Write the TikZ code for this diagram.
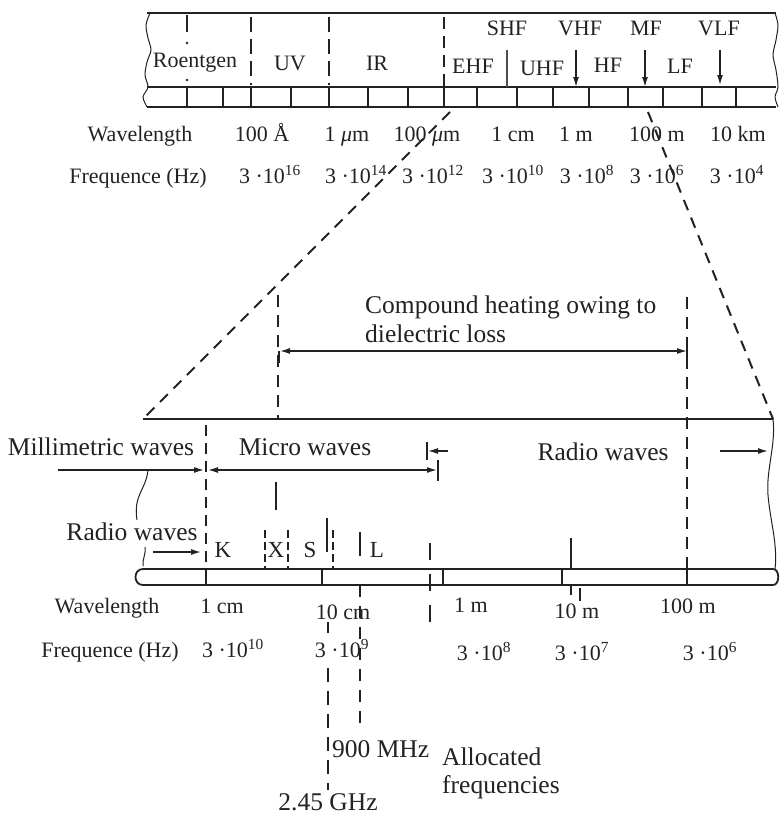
\documentclass[tikz,border=0pt]{standalone}
\usepackage{fontspec}
\setmainfont{Liberation Serif}
\usetikzlibrary{arrows.meta}
\definecolor{ink}{HTML}{222222}
\begin{document}
\begin{tikzpicture}[x=1pt,y=-1pt,
  frame/.style={draw=ink,line width=1.8pt},
  tk/.style={draw=ink,line width=1.4pt},
  tkb/.style={draw=ink,line width=2pt},
  thinw/.style={draw=ink,line width=1pt},
  dsh/.style={draw=ink,line width=2pt,dash pattern=on 12pt off 8pt},
  dshs/.style={draw=ink,line width=1.6pt,dash pattern=on 8pt off 4pt},
  arr/.style={draw=ink,line width=1.4pt,-{Latex[length=10pt,width=6pt]}},
  darr/.style={draw=ink,line width=1.4pt,{Latex[length=10pt,width=6pt]}-{Latex[length=10pt,width=6pt]}},
  lbl/.style={anchor=base,inner sep=0pt,text=ink,font=\fontsize{22}{24}\selectfont},
  big/.style={anchor=base,inner sep=0pt,text=ink,font=\fontsize{25.5}{28}\selectfont},
  bigl/.style={big,anchor=base west}
]
\useasboundingbox (0,0) rectangle (780,814);

% ================= upper band =================
\draw[frame] (147,13) -- (776,13);
\draw[frame] (147,87) -- (776,87);
\draw[frame] (147,107) -- (776,107);
\draw[thinw] plot[smooth] coordinates {(150,13) (146,25) (148,38) (151,50) (147,62) (145,75) (148,87) (143,97) (147,107)};
\draw[thinw] plot[smooth] coordinates {(775,13) (778,25) (776,40) (773,55) (776,70) (778,87) (775,97) (778,107)};
% ticks
\foreach \x in {187,251,329,444,517,702} \draw[tkb] (\x,87) -- (\x,107);
\foreach \x in {223,291,368,408,477,553,589,628,663,736} \draw[tk] (\x,87) -- (\x,107);
% dividers
\draw[tkb] (187,15) -- (187,32);
\fill[ink] (187,43) circle (1.3pt);
\fill[ink] (187,80) circle (1.3pt);
\foreach \x in {251,329} \draw[dsh,dash pattern=on 15pt off 7pt] (\x,17) -- (\x,85);
\draw[dsh,dash pattern=on 12pt off 7pt] (444,17) -- (444,86);
\draw[tk,draw=ink!80] (507,50) -- (507,87);
\coordinate (vhfA) at (576,50); \coordinate (vhfB) at (576,87);
\coordinate (mfA) at (645,50);  \coordinate (mfB) at (645,87);
\coordinate (vlfA) at (720,50); \coordinate (vlfB) at (720,85);
\draw[arr] (vhfA) -- (vhfB);
\draw[arr] (mfA) -- (mfB);
\draw[arr] (vlfA) -- (vlfB);
% band labels
\node[lbl] (roent) at (195,67) {Roentgen};
\node[lbl] (uv) at (290,70) {UV};
\node[lbl] (ir) at (377,70) {IR};
\node[lbl] (shf) at (507,35) {SHF};
\node[lbl] (vhf) at (580,35) {VHF};
\node[lbl] (mf) at (646,35) {MF};
\node[lbl] (vlf) at (719,35) {VLF};
\node[lbl] (ehf) at (473,73) {EHF};
\node[lbl] (uhf) at (542,75) {UHF};
\node[lbl] (hf) at (608,72) {HF};
\node[lbl] (lf) at (680,73) {LF};
% wavelength / frequency rows
\node[lbl] (wl1) at (140,141) {Wavelength};
\node[lbl] (w1) at (262,141) {100 Å};
\node[lbl] (w2) at (347,141) {1 \textit{μ}m};
\node[lbl] (w3) at (427,141) {100 \textit{μ}m};
\node[lbl] (w4) at (513,141) {1 cm};
\node[lbl] (w5) at (576,141) {1 m};
\node[lbl] (w6) at (657,141) {100 m};
\node[lbl] (w7) at (738,141) {10 km};
\node[lbl] (fr1) at (138,183) {Frequence (Hz)};
\node[lbl] (f1) at (270,183) {3 ·10\textsuperscript{16}};
\node[lbl] (f2) at (356,183) {3 ·10\textsuperscript{14}};
\node[lbl] (f3) at (433,183) {3 ·10\textsuperscript{12}};
\node[lbl] (f4) at (513,183) {3 ·10\textsuperscript{10}};
\node[lbl] (f5) at (587,183) {3 ·10\textsuperscript{8}};
\node[lbl] (f6) at (657,183) {3 ·10\textsuperscript{6}};
\node[lbl] (f7) at (737,183) {3 ·10\textsuperscript{4}};

% ================= zoom trapezoid =================
\coordinate (zl1) at (450,112); \coordinate (zl2) at (143,419);
\coordinate (zr1) at (648,112); \coordinate (zr2) at (773,419);
\draw[dsh,dash pattern=on 11pt off 8pt] (zl1) -- (zl2);
\draw[dsh,dash pattern=on 11pt off 8pt] (zr1) -- (zr2);

% ================= lower section =================
\draw[frame] (143,419) -- (773,419);
\draw[thinw] (773,419) .. controls (776,445) and (766,470) .. (768,495)
  .. controls (770,520) and (778,545) .. (775,569);
% compound heating
\draw[dsh] (278,295) -- (278,419);
\draw[dsh] (687,297) -- (687,569);
\coordinate (chA) at (280,351); \coordinate (chB) at (687,351);
\draw[darr] (chA) -- (chB);
\draw[tkb] (279,351) -- (279,363);
\draw[tkb] (687,342) -- (687,361);
\node[bigl] (comp1) at (365,313) {Compound heating owing to};
\node[bigl] (comp2) at (365,342) {dielectric loss};

% wave ranges
\coordinate (mmA) at (58,470); \coordinate (mmB) at (204,470);
\coordinate (mwA) at (208,470); \coordinate (mwB) at (437,470);
\draw[arr] (mmA) -- (mmB);
\draw[darr] (mwA) -- (mwB);
\draw[tk] (438,460) -- (438,481);
\coordinate (rwA) at (448,451); \coordinate (rwB) at (428,451);
\draw[arr] (rwA) -- (rwB);
\draw[tk] (427,442) -- (427,460);
\coordinate (rrA) at (720,451); \coordinate (rrB) at (768,451);
\draw[arr] (rrA) -- (rrB);
\coordinate (rlA) at (153,552); \coordinate (rlB) at (201,552);
\draw[arr] (rlA) -- (rlB);
\node[big] (mmw) at (101,455) {Millimetric waves};
\node[big] (mw) at (305,455) {Micro waves};
\node[big] (rw) at (603,460) {Radio waves};
\node[big] (rwl) at (132,540) {Radio waves};

\draw[dsh,dash pattern=on 11pt off 7pt] (206,425) -- (206,569);
\draw[tkb] (276,482) -- (276,510);
% left break lines
\draw[thinw] (148,470) .. controls (146,490) and (133,495) .. (137,520);
\draw[thinw] (145,547) .. controls (146,555) and (142,560) .. (143,566);
\draw[frame] (143,569) .. controls (133,569) and (133,585) .. (143,585);
\draw[frame] (773,569) .. controls (780,569) and (780,585) .. (773,585);

% lower scale
\draw[frame] (143,569) -- (773,569);
\draw[frame] (143,585) -- (773,585);
\foreach \x in {206,322,443,562,687} \draw[tkb] (\x,569) -- (\x,585);
% markers above
\draw[dshs] (265,530) -- (265,569);
\draw[dshs] (288,530) -- (288,569);
\draw[tkb] (327,518) -- (327,552);
\draw[dshs] (333,530) -- (333,569);
\draw[tkb] (360,532) -- (360,556);
\draw[dsh,dash pattern=on 17pt off 14pt] (430,543) -- (430,623);
\draw[tkb] (571,538) -- (571,569);
% markers below
\draw[tk] (571,585) -- (571,595);
\draw[tk] (580,588) -- (580,601);
\draw[dsh,dash pattern=on 12pt off 9pt] (360,585) -- (360,728);
\draw[tkb] (328,622) -- (328,633);
\draw[dsh,dash pattern=on 14pt off 9pt] (328,668) -- (328,790);

\node[lbl,font=\fontsize{23}{25}\selectfont] (bk) at (223,557) {K};
\node[lbl,font=\fontsize{23}{25}\selectfont] (bx) at (276,557) {X};
\node[lbl,font=\fontsize{23}{25}\selectfont] (bs) at (310,557) {S};
\node[lbl,font=\fontsize{23}{25}\selectfont] (bl) at (377,557) {L};

\node[lbl] (wl2) at (107,613) {Wavelength};
\node[lbl] (lw1) at (222,613) {1 cm};
\node[lbl] (lw2) at (343,619) {10 cm};
\node[lbl] (lw3) at (471,612) {1 m};
\node[lbl] (lw4) at (577,618) {10 m};
\node[lbl] (lw5) at (688,613) {100 m};
\node[lbl] (fr2) at (110,657) {Frequence (Hz)};
\node[lbl] (lf1) at (233,657) {3 ·10\textsuperscript{10}};
\node[lbl] (lf2) at (342,657) {3 ·10\textsuperscript{9}};
\node[lbl] (lf3) at (484,660) {3 ·10\textsuperscript{8}};
\node[lbl] (lf4) at (582,660) {3 ·10\textsuperscript{7}};
\node[lbl] (lf5) at (710,660) {3 ·10\textsuperscript{6}};

\node[bigl] (mhz) at (332,757) {900 MHz};
\node[big] (ghz) at (328,810) {2.45 GHz};
\node[bigl] (alloc1) at (442,765) {Allocated};
\node[bigl] (alloc2) at (442,793) {frequencies};
\end{tikzpicture}
\end{document}
